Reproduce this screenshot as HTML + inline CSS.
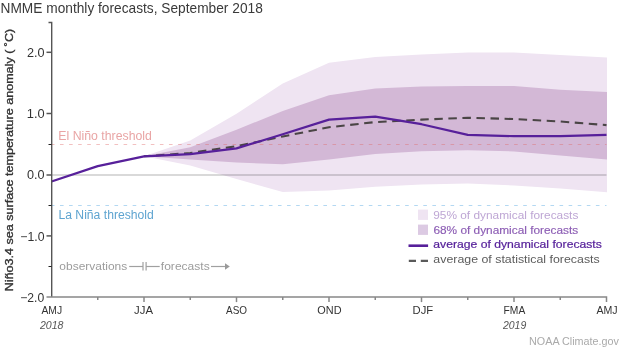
<!DOCTYPE html>
<html><head><meta charset="utf-8"><style>
html,body{margin:0;padding:0;background:#fff;width:620px;height:349px;overflow:hidden}
svg{display:block;font-family:"Liberation Sans", sans-serif;will-change:transform}
</style></head><body>
<svg width="620" height="349" viewBox="0 0 620 349">
<polygon points="144.00,156.34 190.25,140.43 236.50,113.81 282.75,83.51 329.00,62.70 375.25,56.89 421.50,54.44 467.75,52.61 514.00,52.61 560.25,55.05 607.00,57.50 607.00,192.14 560.25,188.47 514.00,185.41 467.75,183.57 421.50,184.49 375.25,186.63 329.00,190.61 282.75,192.02 236.50,178.98 190.25,165.52 144.00,156.34" fill="#efe4f2"/>
<polygon points="144.00,156.34 190.25,147.16 236.50,129.72 282.75,111.05 329.00,95.14 375.25,88.41 421.50,86.57 467.75,85.96 514.00,85.96 560.25,89.63 607.00,92.08 607.00,159.40 560.25,155.42 514.00,151.44 467.75,150.22 421.50,151.14 375.25,153.89 329.00,159.40 282.75,164.30 236.50,162.46 190.25,159.40 144.00,156.34" fill="#d3b8d6"/>
<line x1="51.5" y1="175" x2="606.5" y2="175" stroke="#000" stroke-opacity="0.15" stroke-width="2"/>
<line x1="51.5" y1="144.5" x2="606.5" y2="144.5" stroke="#e06868" stroke-opacity="0.42" stroke-width="1" stroke-dasharray="3.6,5.483" stroke-dashoffset="0.6"/>
<line x1="51.5" y1="205.5" x2="606.5" y2="205.5" stroke="#b3d8f2" stroke-width="1" stroke-dasharray="3.6,5.483" stroke-dashoffset="0.6"/>
<polyline points="144.00,156.34 190.25,152.97 236.50,146.24 282.75,136.45 329.00,127.27 375.25,122.07 421.50,119.62 467.75,117.78 514.00,119.01 560.25,121.46 606.50,125.13" fill="none" stroke="#4a4545" stroke-width="2.05" stroke-dasharray="8.5,5.56" stroke-dashoffset="2.05"/>
<polyline points="51.50,181.43 97.75,166.13 144.00,156.34 190.25,154.20 236.50,148.38 282.75,134.31 329.00,119.62 375.25,116.56 421.50,124.21 467.75,134.92 514.00,136.14 560.25,136.14 606.50,134.92" fill="none" stroke="#57209a" stroke-width="2.2" stroke-linejoin="round"/>
<path d="M48.5,22.5 H51.7 V297.1" fill="none" stroke="#555" stroke-width="1.4"/>
<line x1="46.5" y1="52.3" x2="51.5" y2="52.3" stroke="#555" stroke-width="1.5"/>
<line x1="46.5" y1="113.5" x2="51.5" y2="113.5" stroke="#555" stroke-width="1.5"/>
<line x1="46.5" y1="175" x2="51.5" y2="175" stroke="#555" stroke-width="1.5"/>
<line x1="46.5" y1="235.9" x2="51.5" y2="235.9" stroke="#555" stroke-width="1.5"/>
<line x1="48.5" y1="144.5" x2="51.5" y2="144.5" stroke="#222" stroke-width="1"/>
<line x1="48.5" y1="205.5" x2="51.5" y2="205.5" stroke="#222" stroke-width="1"/>
<line x1="48.5" y1="266.5" x2="51.5" y2="266.5" stroke="#222" stroke-width="1"/>
<path d="M46.5,297.1 H606.5 V302.1" fill="none" stroke="#888" stroke-width="1.5"/>
<line x1="97.75" y1="297.1" x2="97.75" y2="300.1" stroke="#888" stroke-width="1.5"/>
<line x1="144.0" y1="297.1" x2="144.0" y2="302.1" stroke="#888" stroke-width="1.5"/>
<line x1="190.25" y1="297.1" x2="190.25" y2="300.1" stroke="#888" stroke-width="1.5"/>
<line x1="236.5" y1="297.1" x2="236.5" y2="302.1" stroke="#888" stroke-width="1.5"/>
<line x1="282.75" y1="297.1" x2="282.75" y2="300.1" stroke="#888" stroke-width="1.5"/>
<line x1="329.0" y1="297.1" x2="329.0" y2="302.1" stroke="#888" stroke-width="1.5"/>
<line x1="375.25" y1="297.1" x2="375.25" y2="300.1" stroke="#888" stroke-width="1.5"/>
<line x1="421.5" y1="297.1" x2="421.5" y2="302.1" stroke="#888" stroke-width="1.5"/>
<line x1="467.75" y1="297.1" x2="467.75" y2="300.1" stroke="#888" stroke-width="1.5"/>
<line x1="514.0" y1="297.1" x2="514.0" y2="302.1" stroke="#888" stroke-width="1.5"/>
<line x1="560.25" y1="297.1" x2="560.25" y2="300.1" stroke="#888" stroke-width="1.5"/>
<line x1="129.2" y1="266.5" x2="143" y2="266.5" stroke="#a0a0a0" stroke-width="1.2"/>
<line x1="143" y1="262" x2="143" y2="270.5" stroke="#a0a0a0" stroke-width="1.2"/>
<line x1="146.1" y1="262" x2="146.1" y2="270.5" stroke="#a0a0a0" stroke-width="1.2"/>
<line x1="146.1" y1="266.5" x2="159.7" y2="266.5" stroke="#a0a0a0" stroke-width="1.2"/>
<line x1="211.0" y1="266.5" x2="226" y2="266.5" stroke="#a0a0a0" stroke-width="1.2"/>
<polygon points="225,263.2 229.8,266.5 225,269.8" fill="#9a9a9a"/>
<rect x="418" y="209.6" width="10" height="10.3" fill="#efe4f2"/>
<rect x="418" y="224.6" width="10" height="10.3" fill="#dccae3"/>
<line x1="408.5" y1="245.7" x2="428.1" y2="245.7" stroke="#57209a" stroke-width="2.6"/>
<line x1="408.8" y1="260.9" x2="428.2" y2="260.9" stroke="#5a5a5a" stroke-width="2.1" stroke-dasharray="7.2,4.8"/>
<text x="0.51" y="12.7" font-size="14.3" fill="#3a3a3a" textLength="262.28" lengthAdjust="spacingAndGlyphs">NMME monthly forecasts, September 2018</text>
<text x="26.99" y="56.9" font-size="12.2" fill="#333" textLength="17.61" lengthAdjust="spacingAndGlyphs">2.0</text>
<text x="26.75" y="117.9" font-size="12.2" fill="#333" textLength="17.87" lengthAdjust="spacingAndGlyphs">1.0</text>
<text x="27.06" y="179.3" font-size="12.2" fill="#333" textLength="17.56" lengthAdjust="spacingAndGlyphs">0.0</text>
<text x="20.34" y="240.5" font-size="12.2" fill="#333" textLength="24.18" lengthAdjust="spacingAndGlyphs">−1.0</text>
<text x="20.21" y="301.7" font-size="12.2" fill="#333" textLength="23.98" lengthAdjust="spacingAndGlyphs">−2.0</text>
<text x="41.40" y="313.8" font-size="11.3" fill="#333" textLength="20.67" lengthAdjust="spacingAndGlyphs">AMJ</text>
<text x="134.11" y="313.8" font-size="11.3" fill="#333" textLength="18.88" lengthAdjust="spacingAndGlyphs">JJA</text>
<text x="226.10" y="313.8" font-size="11.3" fill="#333" textLength="21.01" lengthAdjust="spacingAndGlyphs">ASO</text>
<text x="317.34" y="313.8" font-size="11.3" fill="#333" textLength="24.19" lengthAdjust="spacingAndGlyphs">OND</text>
<text x="412.57" y="313.8" font-size="11.3" fill="#333" textLength="20.60" lengthAdjust="spacingAndGlyphs">DJF</text>
<text x="503.57" y="313.8" font-size="11.3" fill="#333" textLength="21.72" lengthAdjust="spacingAndGlyphs">FMA</text>
<text x="596.41" y="313.8" font-size="11.3" fill="#333" textLength="21.21" lengthAdjust="spacingAndGlyphs">AMJ</text>
<text x="39.90" y="328.6" font-size="10.3" fill="#555" font-style="italic" textLength="23.53" lengthAdjust="spacingAndGlyphs">2018</text>
<text x="502.97" y="328.6" font-size="10.3" fill="#555" font-style="italic" textLength="23.30" lengthAdjust="spacingAndGlyphs">2019</text>
<text x="58.31" y="139.9" font-size="12.0" fill="#e9a5a5" textLength="93.65" lengthAdjust="spacingAndGlyphs">El Niño threshold</text>
<text x="58.46" y="218.8" font-size="12.0" fill="#5ea4d0" textLength="95.36" lengthAdjust="spacingAndGlyphs">La Niña threshold</text>
<text x="59.37" y="269.7" font-size="11.8" fill="#9c9c9c" textLength="67.83" lengthAdjust="spacingAndGlyphs">observations</text>
<text x="160.82" y="269.7" font-size="11.8" fill="#9c9c9c" textLength="48.92" lengthAdjust="spacingAndGlyphs">forecasts</text>
<text x="433.22" y="218.6" font-size="10.6" fill="#bea6d4" textLength="145.13" lengthAdjust="spacingAndGlyphs">95% of dynamical forecasts</text>
<text x="433.40" y="233.8" font-size="10.6" fill="#8c5db4" stroke="#8c5db4" stroke-width="0.15" textLength="144.85" lengthAdjust="spacingAndGlyphs">68% of dynamical forecasts</text>
<text x="433.34" y="248.4" font-size="10.6" fill="#56219a" stroke="#56219a" stroke-width="0.2" textLength="168.50" lengthAdjust="spacingAndGlyphs">average of dynamical forecasts</text>
<text x="433.36" y="263.2" font-size="10.6" fill="#5c5c5c" textLength="166.36" lengthAdjust="spacingAndGlyphs">average of statistical forecasts</text>
<text x="529.05" y="344.7" font-size="10.6" fill="#aaa" textLength="89.88" lengthAdjust="spacingAndGlyphs">NOAA Climate.gov</text>
<text transform="translate(12.8,291.3) rotate(-90)" x="0" y="0" font-size="11.6" fill="#333" stroke="#333" stroke-width="0.35" textLength="262.6" lengthAdjust="spacingAndGlyphs">Niño3.4 sea surface temperature anomaly ( ˚C)</text>
</svg>
</body></html>
